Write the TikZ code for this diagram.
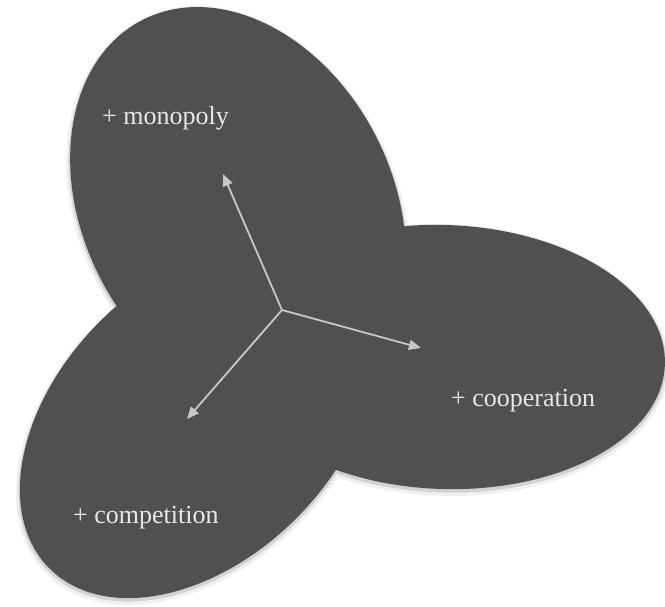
\documentclass[tikz,border=0pt]{standalone}
\usepackage{fontspec}
\setmainfont{Liberation Serif}
\usetikzlibrary{arrows.meta}
\definecolor{lobefill}{RGB}{80,80,80}
\definecolor{arrowgray}{RGB}{200,200,200}
\definecolor{labelgray}{RGB}{232,232,232}
\begin{document}
\begin{tikzpicture}[x=1pt,y=1pt,
  axisarrow/.style={draw=arrowgray, line width=1.8pt, line cap=round, -{Triangle[length=12pt,width=10pt]}},
  lbl/.style={text=labelgray, font=\fontsize{26}{30}\selectfont, anchor=base west, inner sep=0pt}]
\useasboundingbox (0,0) rectangle (665,-607);
% soft shadow
\foreach \cx/\cy/\a/\b/\r in {238/-207/210/155/117, 444/-357/221/132/-2, 198/-420/210/139/45}{
  \fill[gray!12, rotate around={\r:(\cx,\cy-3)}] (\cx,\cy-3) ellipse [x radius=\a+4, y radius=\b+4];
}
\foreach \cx/\cy/\a/\b/\r in {238/-207/210/155/117, 444/-357/221/132/-2, 198/-420/210/139/45}{
  \fill[gray!35, rotate around={\r:(\cx,\cy-2)}] (\cx,\cy-2) ellipse [x radius=\a+1.5, y radius=\b+1.5];
}
% lobes
\fill[lobefill, rotate around={117:(238,-207)}] (238,-207) ellipse [x radius=210, y radius=155];
\fill[lobefill, rotate around={-2:(444,-357)}] (444,-357) ellipse [x radius=221, y radius=132];
\fill[lobefill, rotate around={45:(198,-420)}] (198,-420) ellipse [x radius=210, y radius=139];
% arrows
\coordinate (o) at (282,-310);
\coordinate (tm) at (223,-174);
\coordinate (tc) at (421,-348);
\coordinate (tp) at (187,-419);
\draw[axisarrow] (o) -- (tm);
\draw[axisarrow] (o) -- (tc);
\draw[axisarrow] (o) -- (tp);
% labels
\node[lbl] (mono) at (102,-125) {+ monopoly};
\node[lbl] (coop) at (451,-406) {+ cooperation};
\node[lbl] (comp) at (73,-523) {+ competition};
\end{tikzpicture}
\end{document}
